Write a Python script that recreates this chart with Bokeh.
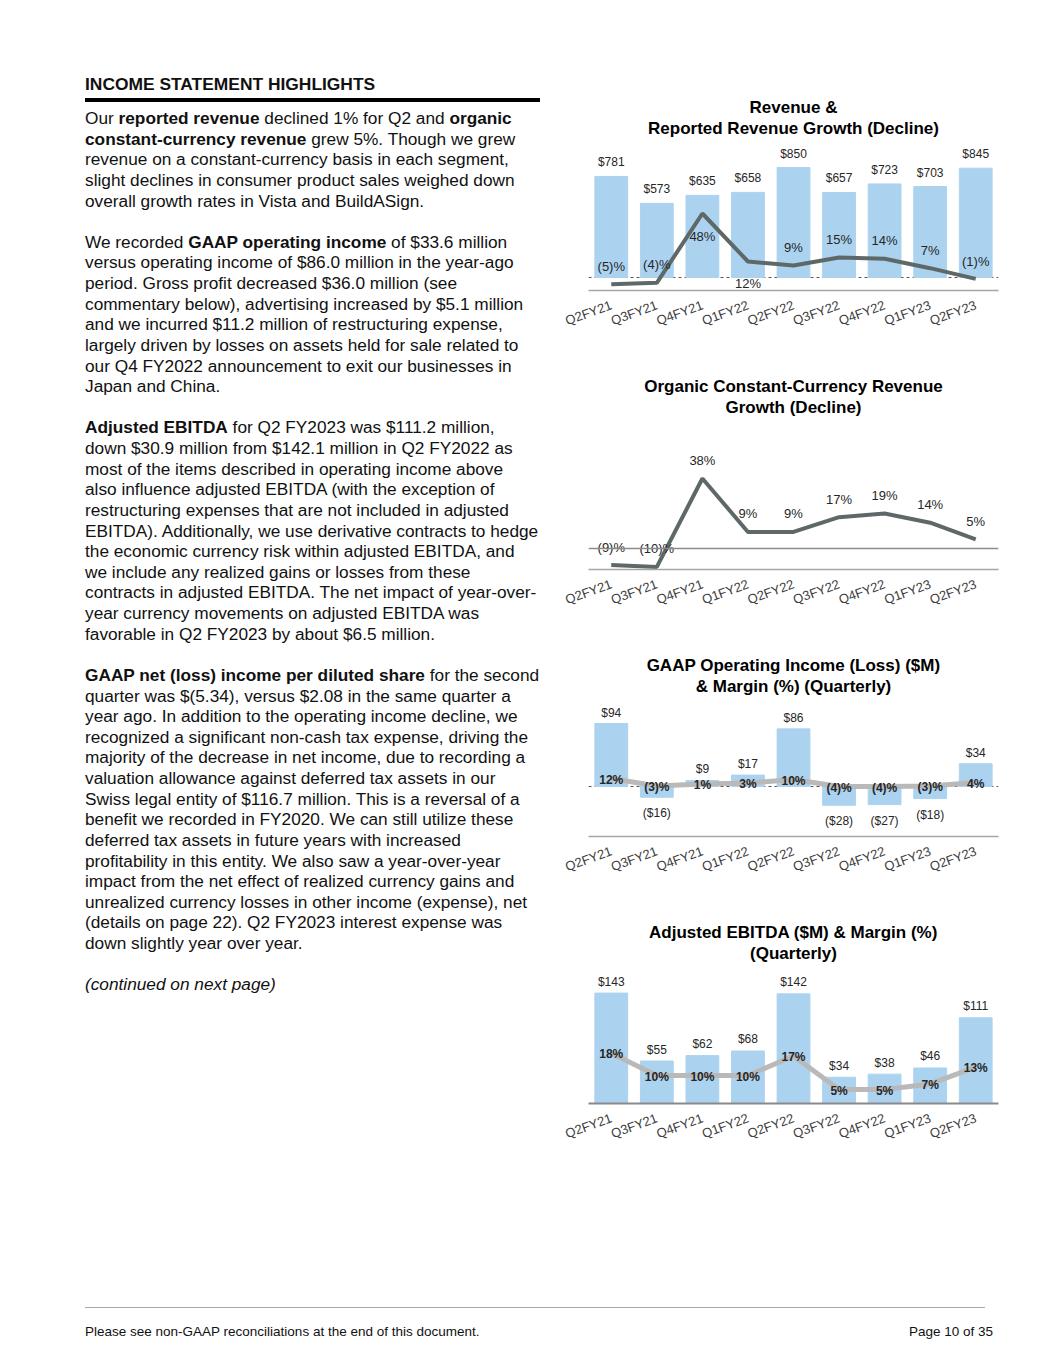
import re
from bokeh.plotting import figure
from bokeh.models import ColumnDataSource, Range1d, FactorRange, Span, Div, Spacer, Title
from bokeh.layouts import column, row
from bokeh.core.properties import value
from bokeh.embed import file_html
from bokeh.resources import INLINE

# ---------------- data ----------------
quarters = ["Q2FY21", "Q3FY21", "Q4FY21", "Q1FY22", "Q2FY22",
            "Q3FY22", "Q4FY22", "Q1FY23", "Q2FY23"]
revenue = [781, 573, 635, 658, 850, 657, 723, 703, 845]
revenue_growth = [-5, -4, 48, 12, 9, 15, 14, 7, -1]
organic_growth = [-9, -10, 38, 9, 9, 17, 19, 14, 5]
gaap_op_income = [94, -16, 9, 17, 86, -28, -27, -18, 34]
gaap_op_margin = [12, -3, 1, 3, 10, -4, -4, -3, 4]
adj_ebitda = [143, 55, 62, 68, 142, 34, 38, 46, 111]
adj_ebitda_margin = [18, 10, 10, 10, 17, 5, 5, 7, 13]

chart_titles = [
    ["Revenue &", "Reported Revenue Growth (Decline)"],
    ["Organic Constant-Currency Revenue", "Growth (Decline)"],
    ["GAAP Operating Income (Loss) ($M)", "& Margin (%) (Quarterly)"],
    ["Adjusted EBITDA ($M) & Margin (%)", "(Quarterly)"],
]

heading = "INCOME STATEMENT HIGHLIGHTS"
body_paragraphs = [
    ["Our **reported revenue** declined 1% for Q2 and **organic**",
     "**constant-currency revenue** grew 5%. Though we grew",
     "revenue on a constant-currency basis in each segment,",
     "slight declines in consumer product sales weighed down",
     "overall growth rates in Vista and BuildASign."],
    ["We recorded **GAAP operating income** of $33.6 million",
     "versus operating income of $86.0 million in the year-ago",
     "period. Gross profit decreased $36.0 million (see",
     "commentary below), advertising increased by $5.1 million",
     "and we incurred $11.2 million of restructuring expense,",
     "largely driven by losses on assets held for sale related to",
     "our Q4 FY2022 announcement to exit our businesses in",
     "Japan and China."],
    ["**Adjusted EBITDA** for Q2 FY2023 was $111.2 million,",
     "down $30.9 million from $142.1 million in Q2 FY2022 as",
     "most of the items described in operating income above",
     "also influence adjusted EBITDA (with the exception of",
     "restructuring expenses that are not included in adjusted",
     "EBITDA). Additionally, we use derivative contracts to hedge",
     "the economic currency risk within adjusted EBITDA, and",
     "we include any realized gains or losses from these",
     "contracts in adjusted EBITDA. The net impact of year-over-",
     "year currency movements on adjusted EBITDA was",
     "favorable in Q2 FY2023 by about $6.5 million."],
    ["**GAAP net (loss) income per diluted share** for the second",
     "quarter was $(5.34), versus $2.08 in the same quarter a",
     "year ago. In addition to the operating income decline, we",
     "recognized a significant non-cash tax expense, driving the",
     "majority of the decrease in net income, due to recording a",
     "valuation allowance against deferred tax assets in our",
     "Swiss legal entity of $116.7 million. This is a reversal of a",
     "benefit we recorded in FY2020. We can still utilize these",
     "deferred tax assets in future years with increased",
     "profitability in this entity. We also saw a year-over-year",
     "impact from the net effect of realized currency gains and",
     "unrealized currency losses in other income (expense), net",
     "(details on page 22). Q2 FY2023 interest expense was",
     "down slightly year over year."],
    ["__(continued on next page)__"],
]
footer_left = "Please see non-GAAP reconciliations at the end of this document."
footer_right = "Page 10 of 35"

# ---------------- styles ----------------
FONT = "Liberation Sans"
BAR = "#abd3f0"
DARK_LINE = "#5e6868"
LIGHT_LINE = "#b9b9b9"
LABEL = "#262626"


def money(v):
    return f"${v}" if v >= 0 else f"(${-v})"


def pct(v):
    return f"{v}%" if v >= 0 else f"({-v})%"


def make_title(text):
    return Title(text=text, align="center", text_font=FONT, text_font_size="17px",
                 text_font_style="bold", text_color="#000000", standoff=0)


def base_fig(title_lines, height, b_top, b_bottom, y0, y1):
    p = figure(x_range=FactorRange(*quarters), y_range=Range1d(y0, y1),
               width=450, height=height,
               min_border_left=28, min_border_right=12,
               min_border_top=b_top, min_border_bottom=b_bottom,
               y_axis_location=None, output_backend="svg",
               toolbar_location=None, title=None)
    p.add_layout(make_title(title_lines[1]), "above")
    p.add_layout(make_title(title_lines[0]), "above")
    p.xgrid.visible = False
    p.ygrid.visible = False
    p.outline_line_color = None
    ax = p.xaxis[0]
    ax.major_tick_line_color = None
    ax.minor_tick_line_color = None
    ax.axis_line_color = "#a6a6a6"
    ax.axis_line_width = 1.5
    ax.major_label_orientation = 0.35
    ax.major_label_text_font = FONT
    ax.major_label_text_font_size = "13px"
    ax.major_label_text_color = "#404040"
    ax.major_label_standoff = 8
    return p


def labels(p, src, y, text, offsets, size="12px", bold=False, range_name="default"):
    kw = {}
    if range_name != "default":
        kw["y_range_name"] = range_name
    p.text(x="q", y=y, text=text, source=src, y_offset=offsets,
           text_align="center", text_baseline="middle",
           text_font=value(FONT), text_font_size=size,
           text_font_style="bold" if bold else "normal",
           text_color=LABEL, **kw)


# ---------------- chart 1 ----------------
p1 = base_fig(chart_titles[0], 280, 49, 78, -100.5, 1082)
p1.extra_y_ranges = {"pct": Range1d(-9.75, 105.0)}
src1 = ColumnDataSource(dict(
    q=quarters, rev=revenue, g=revenue_growth,
    rev_lbl=[money(v) for v in revenue],
    g_lbl=[pct(v) for v in revenue_growth],
    rev_off=[-14] * len(quarters),
    g_off=[-18, -18, 23, 22, -18, -18, -18, -18, -17],
))
p1.add_layout(Span(location=0, dimension="width", line_color="#555555",
                   line_dash="3 3", line_width=1, level="underlay"))
p1.vbar(x="q", top="rev", width=0.72, color=BAR, source=src1)
p1.line(x="q", y="g", source=src1, line_color=DARK_LINE, line_width=4,
        y_range_name="pct")
labels(p1, src1, "rev", "rev_lbl", "rev_off", size="12px")
labels(p1, src1, "g", "g_lbl", "g_off", size="13px", range_name="pct")

# ---------------- chart 2 ----------------
p2 = base_fig(chart_titles[1], 279, 48, 78, -11.41, 71.7)
src2 = ColumnDataSource(dict(
    q=quarters, g=organic_growth,
    g_lbl=[pct(v) for v in organic_growth],
    g_off=[-18] * len(quarters),
))
p2.add_layout(Span(location=0, dimension="width", line_color="#8c8c8c",
                   line_width=1.5))
p2.line(x="q", y="g", source=src2, line_color=DARK_LINE, line_width=4)
labels(p2, src2, "g", "g_lbl", "g_off", size="13px")

# ---------------- chart 3 ----------------
p3 = base_fig(chart_titles[2], 267, 48, 78, -74.6, 135.8)
p3.extra_y_ranges = {"pct": Range1d(-104, 178)}
src3 = ColumnDataSource(dict(
    q=quarters, v=gaap_op_income, m=gaap_op_margin,
    v_lbl=[money(v) for v in gaap_op_income],
    m_lbl=[pct(v) for v in gaap_op_margin],
    v_off=[-11 if v >= 0 else 16 for v in gaap_op_income],
    m_off=[1] * len(quarters),
))
p3.add_layout(Span(location=0, dimension="width", line_color="#555555",
                   line_dash="3 3", line_width=1, level="underlay"))
p3.vbar(x="q", top="v", width=0.72, color=BAR, source=src3)
p3.line(x="q", y="m", source=src3, line_color=LIGHT_LINE, line_width=5,
        y_range_name="pct")
labels(p3, src3, "v", "v_lbl", "v_off", size="12px")
labels(p3, src3, "m", "m_lbl", "m_off", size="12px", bold=True, range_name="pct")

# ---------------- chart 4 ----------------
p4 = base_fig(chart_titles[3], 267, 48, 78, 0, 182.6)
p4.xaxis[0].axis_line_color = "#8a8a8a"
p4.xaxis[0].axis_line_width = 2
p4.extra_y_ranges = {"pct": Range1d(0, 50.4)}
src4 = ColumnDataSource(dict(
    q=quarters, v=adj_ebitda, m=adj_ebitda_margin,
    v_lbl=[money(v) for v in adj_ebitda],
    m_lbl=[pct(v) for v in adj_ebitda_margin],
    v_off=[-11.5] * len(quarters),
    m_off=[1] * len(quarters),
))
p4.vbar(x="q", top="v", width=0.72, color=BAR, source=src4)
p4.line(x="q", y="m", source=src4, line_color=LIGHT_LINE, line_width=5,
        y_range_name="pct")
labels(p4, src4, "v", "v_lbl", "v_off", size="12px")
labels(p4, src4, "m", "m_lbl", "m_off", size="12px", bold=True, range_name="pct")

# ---------------- text column ----------------
def md(s):
    s = re.sub(r"\*\*(.+?)\*\*", r"<b>\1</b>", s)
    s = re.sub(r"__(.+?)__", r"<i>\1</i>", s)
    return s


body_html = "<br><br>".join("<br>".join(md(l) for l in para) for para in body_paragraphs)
left_html = (
    f'<div style="font-family:\'{FONT}\',Arial,sans-serif;color:#111;font-size:17.25px;'
    f'line-height:20.62px;white-space:nowrap;padding-top:73.9px;">'
    f'<div style="font-weight:bold;font-size:17.4px;">{heading}</div>'
    f'<div style="margin-top:3.8px;height:3.4px;width:455px;background:#000;"></div>'
    f'<div style="margin-top:6.3px;">{body_html}</div>'
    f'</div>'
)
left_div = Div(text=left_html, width=470, height=1181, margin=0)

footer_html = (
    f'<div style="position:relative;width:1000px;height:170px;'
    f'font-family:\'{FONT}\',Arial,sans-serif;color:#111;font-size:13.5px;line-height:16px;">'
    f'<div style="position:absolute;left:85px;top:126px;width:900px;height:1px;background:#a8a8a8;"></div>'
    f'<div style="position:absolute;left:85px;top:143px;white-space:nowrap;">{footer_left}</div>'
    f'<div style="position:absolute;right:7px;top:143px;white-space:nowrap;">{footer_right}</div>'
    f'</div>'
)
footer_div = Div(text=footer_html, width=1000, height=170, margin=0)

charts = column(Spacer(width=450, height=88), p1, p2, p3, p4, spacing=0)
top = row(Spacer(width=85, height=1181), left_div, Spacer(width=5, height=1181), charts, spacing=0)
page = column(top, footer_div, spacing=0)

open("out.html", "w").write(file_html(page, INLINE))
